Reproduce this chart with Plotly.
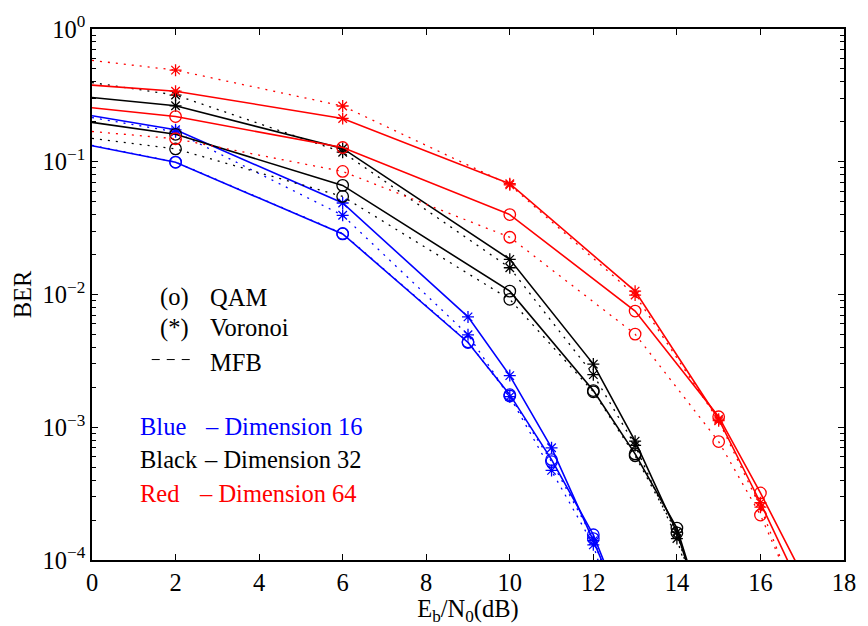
import plotly.graph_objects as go

# Eb/N0 points (dB) per dimension
x_blue = [0, 2, 6, 9, 10, 11, 12, 13]
x_black = [0, 2, 6, 10, 12, 13, 14, 15]
x_red = [0, 2, 6, 10, 13, 15, 16, 17]

# Dimension 16 (blue)
blue_qam_sim = [0.132, 0.099, 0.0286, 0.00435, 0.00176, 5.7e-4, 1.55e-4, 2.5e-5]
blue_qam_mfb = [0.133, 0.0995, 0.0288, 0.00440, 0.00172, 5.5e-4, 1.45e-4, 1.8e-5]
blue_vor_sim = [0.222, 0.174, 0.0489, 0.00678, 0.00245, 7.0e-4, 1.40e-4, 2.5e-5]
blue_vor_mfb = [0.215, 0.168, 0.0395, 0.00497, 0.00170, 4.73e-4, 1.30e-4, 1.2e-5]

# Dimension 32 (black)
black_qam_sim = [0.198, 0.161, 0.0664, 0.0106, 0.00189, 6.3e-4, 1.74e-4, 1.7e-5]
black_qam_mfb = [0.150, 0.125, 0.0548, 0.0092, 0.00185, 6.1e-4, 1.60e-4, 1.3e-5]
black_vor_sim = [0.305, 0.264, 0.126, 0.0184, 0.00299, 7.86e-4, 1.62e-4, 1.7e-5]
black_vor_mfb = [0.395, 0.318, 0.118, 0.0159, 0.00249, 7.3e-4, 1.45e-4, 1.3e-5]

# Dimension 64 (red)
red_qam_sim = [0.255, 0.219, 0.128, 0.0400, 0.0075, 1.20e-3, 3.2e-4, 7.8e-5]
red_qam_mfb = [0.169, 0.149, 0.0845, 0.0270, 0.00503, 7.8e-4, 2.18e-4, 4.2e-5]
red_vor_sim = [0.378, 0.340, 0.212, 0.0683, 0.0106, 1.15e-3, 2.7e-4, 5.8e-5]
red_vor_mfb = [0.580, 0.490, 0.263, 0.0670, 0.0099, 1.12e-3, 2.5e-4, 4.0e-5]

x_ticks = [0, 2, 4, 6, 8, 10, 12, 14, 16, 18]
y_ticks = [1e-4, 1e-3, 1e-2, 1e-1, 1]
y_ticktext = ["10<sup>\u22124</sup>", "10<sup>\u22123</sup>", "10<sup>\u22122</sup>",
              "10<sup>\u22121</sup>", "10<sup>0</sup>"]

series = [
    (x_blue, blue_qam_sim, "#0000ff", "circle-open", "solid"),
    (x_blue, blue_qam_mfb, "#0000ff", "circle-open", "dot"),
    (x_blue, blue_vor_sim, "#0000ff", "asterisk-open", "solid"),
    (x_blue, blue_vor_mfb, "#0000ff", "asterisk-open", "dot"),
    (x_black, black_qam_sim, "#000000", "circle-open", "solid"),
    (x_black, black_qam_mfb, "#000000", "circle-open", "dot"),
    (x_black, black_vor_sim, "#000000", "asterisk-open", "solid"),
    (x_black, black_vor_mfb, "#000000", "asterisk-open", "dot"),
    (x_red, red_qam_sim, "#ff0000", "circle-open", "solid"),
    (x_red, red_qam_mfb, "#ff0000", "circle-open", "dot"),
    (x_red, red_vor_sim, "#ff0000", "asterisk-open", "solid"),
    (x_red, red_vor_mfb, "#ff0000", "asterisk-open", "dot"),
]

FONT = "Liberation Serif, Times New Roman, serif"
FS = 24.5

fig = go.Figure()
for xs, ys, col, sym, style in series:
    fig.add_trace(go.Scatter(
        x=xs, y=ys, mode="lines",
        line=dict(color=col, width=1.6 if style == "solid" else 1.3,
                  dash="solid" if style == "solid" else "2px,6px"),
        showlegend=False, hoverinfo="skip"))
    fig.add_trace(go.Scatter(
        x=xs[1:], y=ys[1:], mode="markers",
        marker=dict(symbol=sym, size=11.5 if sym == "circle-open" else 10,
                    color=col, line=dict(color=col, width=1.3)),
        showlegend=False))

minor_vals = [m * 10 ** e for e in range(-4, 0) for m in range(2, 10)]

fig.update_layout(
    width=868, height=626,
    margin=dict(l=92, r=13, t=27, b=66),
    paper_bgcolor="white", plot_bgcolor="white",
    font=dict(family=FONT, size=FS, color="black"),
    xaxis=dict(range=[0, 18], tickvals=x_ticks, ticks="inside", ticklen=6,
               showline=True, linecolor="black", linewidth=1.5, mirror="ticks",
               showgrid=False, zeroline=False, tickcolor="black",
               tickfont=dict(family=FONT, size=FS),
               title=dict(text="E<sub>b</sub>/N<sub>0</sub>(dB)", standoff=0,
                          font=dict(family=FONT, size=FS))),
    yaxis=dict(type="log", range=[-4, 0], tickvals=y_ticks, ticktext=y_ticktext,
               ticks="inside", ticklen=6, showline=True, linecolor="black",
               linewidth=1.5, mirror="ticks", showgrid=False, zeroline=False,
               tickcolor="black", tickfont=dict(family=FONT, size=FS),
               minor=dict(tickvals=minor_vals, ticks="inside", ticklen=4,
                          tickcolor="black", showgrid=False),
               title=dict(text="BER", standoff=4, font=dict(family=FONT, size=FS))),
)

# text annotations (legend-like)
def ann(x, y, text, color="black", anchor="left"):
    fig.add_annotation(x=x, y=y, xref="x", yref="y", text=text, showarrow=False,
                       xanchor=anchor, yanchor="middle",
                       font=dict(family=FONT, size=FS, color=color))

ann(1.59, -2.019, "(o)")
ann(2.77, -2.019, "QAM")
ann(1.59, -2.251, "(*)")
ann(2.77, -2.251, "Voronoi")
ann(2.77, -2.514, "MFB")
fig.add_shape(type="line", xref="x", yref="y", x0=1.43, x1=2.47,
              y0=10 ** -2.49, y1=10 ** -2.49,
              line=dict(color="black", width=1, dash="8px,7px"))

ann(1.10, -2.994, "Blue", "#0000ff")
ann(2.66, -2.994, "\u2013 Dimension 16", "#0000ff")
ann(1.10, -3.242, "Black", "black")
ann(2.63, -3.242, "\u2013 Dimension 32", "black")
ann(1.10, -3.497, "Red", "#ff0000")
ann(2.51, -3.497, "\u2013 Dimension 64", "#ff0000")

fig.write_html("out.html")
